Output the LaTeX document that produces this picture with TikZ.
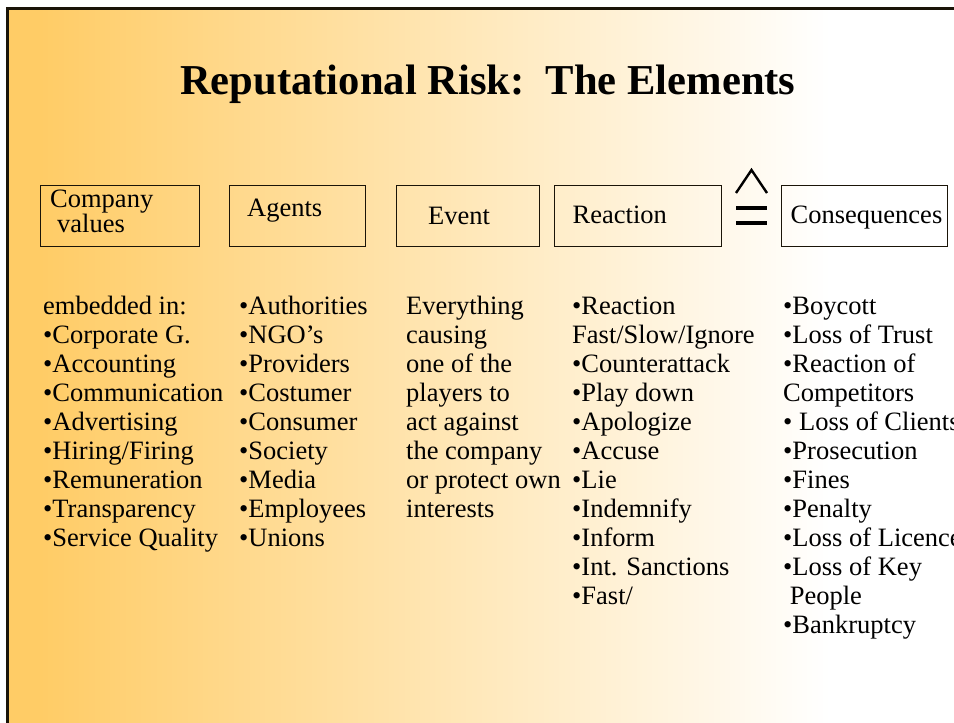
\documentclass[tikz,border=0pt]{standalone}
\usepackage{fontspec}
\setmainfont{Liberation Serif}
\usetikzlibrary{calc}
\definecolor{slideorange}{HTML}{FFCC66}
\definecolor{framedark}{HTML}{1A1408}
\begin{document}
\begin{tikzpicture}[x=1pt,y=-1pt,
  body/.style={font=\fontsize{26.5}{29}\selectfont, inner sep=0pt, anchor=base west, text=black},
  heading/.style={font=\fontsize{42.6}{48}\selectfont\bfseries, inner sep=0pt, anchor=base west, text=black},
  stagebox/.style={draw=framedark, line width=1.2pt, anchor=north west, inner sep=0pt},
  corresp/.style={draw=black, line cap=butt},
]
\useasboundingbox (0,0) rectangle (954,723);
\clip (0,0) rectangle (954,723);

% slide background: solid orange strip, then a fade to white
\fill[white] (0,0) rectangle (954,723);
\fill[slideorange] (7.5,8) rectangle (40.5,723);
\shade[left color=slideorange, right color=white] (40,8) rectangle (830,723);
\draw[framedark, line width=3pt] (7.5,740) -- (7.5,8) -- (980,8);

% title
\node[heading] (title) at (180,94) {Reputational Risk:\ \ The Elements};

% stage boxes
\node[stagebox, minimum width=159, minimum height=61] (bvalues) at (40,185) {};
\node[stagebox, minimum width=136, minimum height=61] (bagents) at (229,185) {};
\node[stagebox, minimum width=143, minimum height=61] (bevent) at (396,185) {};
\node[stagebox, minimum width=167, minimum height=61] (breact) at (554,185) {};
\node[stagebox, minimum width=166, minimum height=61] (bcons) at (781,185) {};

% box labels
\node[body] (lcompany) at (50,207) {Company};
\node[body] (lvalues) at (57,232.5) {values};
\node[body] (lagents) at (247,216) {Agents};
\node[body] (levent) at (428,224) {Event};
\node[body] (lreact) at (572.5,223.5) {Reaction};
\node[body] (lcons) at (790.5,223.5) {Consequences};

% correspondence sign between Reaction and Consequences
\coordinate (corr) at (751.5,200);
\draw[corresp, line width=2.4pt, line join=miter] ($(corr)+(-15.5,-7)$) -- ($(corr)+(0,-30)$) -- ($(corr)+(15.5,-7)$);
\draw[corresp, line width=3.6pt] ($(corr)+(-15.5,8)$) -- ($(corr)+(15.5,8)$);
\draw[corresp, line width=3.6pt] ($(corr)+(-15.5,23)$) -- ($(corr)+(15.5,23)$);

% column lists
\foreach \t [count=\i from 0] in {embedded in:, •Corporate G., •Accounting, •Communication, •Advertising, •Hiring/Firing, •Remuneration, •Transparency, •Service Quality}
  \node[body] (vals-\i) at (43,{314+29*\i}) {\t};

\foreach \t [count=\i from 0] in {•Authorities, •NGO’s, •Providers, •Costumer, •Consumer, •Society, •Media, •Employees, •Unions}
  \node[body] (agts-\i) at (239,{314+29*\i}) {\t};

\foreach \t [count=\i from 0] in {Everything, causing, one of the, players to, act against, the company, or protect own, interests}
  \node[body] (evts-\i) at (406,{314+29*\i}) {\t};

\foreach \t [count=\i from 0] in {•Reaction, Fast/Slow/Ignore, •Counterattack, •Play down, •Apologize, •Accuse, •Lie, •Indemnify, •Inform, •Int. Sanctions, •Fast/}
  \node[body] (reac-\i) at (572,{314+29*\i}) {\t};

\foreach \t [count=\i from 0] in {•Boycott, •Loss of Trust, •Reaction of, Competitors, •\ Loss of Clients, •Prosecution, •Fines, •Penalty, •Loss of Licence, •Loss of Key, \ People, •Bankruptcy}
  \node[body] (cons-\i) at (783,{314+29*\i}) {\t};
\end{tikzpicture}
\end{document}
